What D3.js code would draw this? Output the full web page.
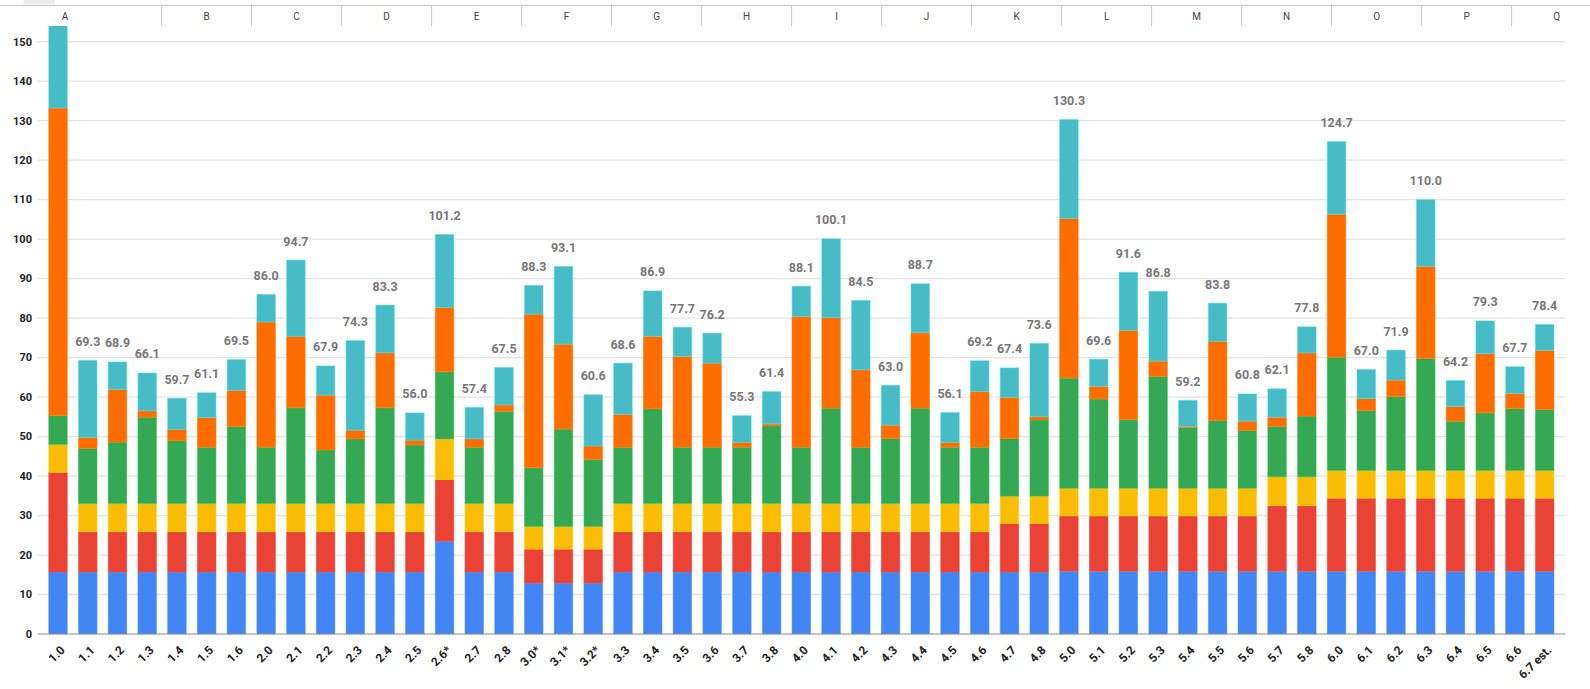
<!DOCTYPE html>
<html>
<head>
<meta charset="utf-8">
<script src="https://cdn.jsdelivr.net/npm/d3@7"></script>
<style>
  body { margin: 0; background: #fff; }
  svg { display: block; font-family: Roboto, "Liberation Sans", Arial, sans-serif; }
</style>
</head>
<body>
<div id="chart"></div>
<script>
// versions along the x axis
var versions = ["1.0","1.1","1.2","1.3","1.4","1.5","1.6",
  "2.0","2.1","2.2","2.3","2.4","2.5","2.6*","2.7","2.8",
  "3.0*","3.1*","3.2*","3.3","3.4","3.5","3.6","3.7","3.8",
  "4.0","4.1","4.2","4.3","4.4","4.5","4.6","4.7","4.8",
  "5.0","5.1","5.2","5.3","5.4","5.5","5.6","5.7","5.8",
  "6.0","6.1","6.2","6.3","6.4","6.5","6.6","6.7 est."];

// stacked segments, bottom to top
var blueVals = [15.7,15.7,15.7,15.7,15.7,15.7,15.7,
  15.7,15.7,15.7,15.7,15.7,15.7,23.5,15.7,15.7,
  12.9,12.9,12.9,15.7,15.7,15.7,15.7,15.7,15.7,
  15.7,15.7,15.7,15.7,15.7,15.7,15.7,15.7,15.7,
  15.9,15.9,15.9,15.9,15.9,15.9,15.9,15.9,15.9,
  15.9,15.9,15.9,15.9,15.9,15.9,15.9,15.9];
var redVals = [25.2,10.2,10.2,10.2,10.2,10.2,10.2,
  10.2,10.2,10.2,10.2,10.2,10.2,15.6,10.2,10.2,
  8.6,8.6,8.6,10.2,10.2,10.2,10.2,10.2,10.2,
  10.2,10.2,10.2,10.2,10.2,10.2,10.2,12.3,12.3,
  14.0,14.0,14.0,14.0,14.0,14.0,14.0,16.6,16.6,
  18.5,18.5,18.5,18.5,18.5,18.5,18.5,18.5];
var yellowVals = [7.1,7.1,7.1,7.1,7.1,7.1,7.1,
  7.1,7.1,7.1,7.1,7.1,7.1,10.3,7.1,7.1,
  5.7,5.7,5.7,7.1,7.1,7.1,7.1,7.1,7.1,
  7.1,7.1,7.1,7.1,7.1,7.1,7.1,6.9,6.9,
  7.0,7.0,7.0,7.0,7.0,7.0,7.0,7.3,7.3,
  7.0,7.0,7.0,7.0,7.0,7.0,7.0,7.0];
var greenVals = [7.3,14.0,15.6,21.9,15.9,14.3,19.5,
  14.3,24.3,13.6,16.4,24.3,14.9,17.0,14.3,23.4,
  14.9,24.7,17.0,14.3,24.0,14.3,14.3,14.3,19.7,
  14.3,24.2,14.3,16.5,24.2,14.3,14.3,14.6,19.3,
  27.9,22.6,17.4,28.3,15.4,17.2,14.6,12.7,15.4,
  28.7,15.2,18.7,28.4,12.5,14.6,15.7,15.4];
var orangeVals = [77.9,2.8,13.3,1.6,2.9,7.5,9.2,
  31.7,18.1,13.9,2.2,13.9,1.2,16.3,2.1,1.6,
  38.9,21.5,3.4,8.3,18.4,23.0,21.3,1.2,0.5,
  33.1,22.9,19.6,3.4,19.1,1.2,14.1,10.4,0.8,
  40.4,3.2,22.6,3.9,0.3,20.0,2.4,2.4,16.0,
  36.2,3.0,4.2,23.3,3.7,15.0,3.8,15.0];
var tealVals = [30.0,19.5,7.0,9.6,7.9,6.3,7.8,
  7.0,19.3,7.4,22.7,12.1,6.9,18.5,8.0,9.5,
  7.3,19.7,13.0,13.0,11.5,7.4,7.6,6.8,8.2,
  7.7,20.0,17.6,10.1,12.4,7.6,7.8,7.5,18.6,
  25.1,6.9,14.7,17.7,6.6,9.7,6.9,7.2,6.6,
  18.4,7.4,7.6,16.9,6.6,8.3,6.8,6.6];

var yTicks = [0,10,20,30,40,50,60,70,80,90,100,110,120,130,140,150];
var sheetColumns = ["A","B","C","D","E","F","G","H","I","J","K","L","M","N","O","P","Q"];

var keys = ["blue","red","yellow","green","orange","teal"];
var colors = ["#4285f4","#ea4335","#fbbc04","#34a853","#ff6d01","#46bdc6"];
var seriesVals = [blueVals, redVals, yellowVals, greenVals, orangeVals, tealVals];

var rows = versions.map(function(v, i) {
    var r = {version: v};
    keys.forEach(function(k, j) { r[k] = seriesVals[j][i]; });
    r.total = d3.sum(seriesVals, function(s) { return s[i]; });
    return r;
});

var width = 1590, height = 689;
var plot = {left: 37.7, right: 1565, top: 41.7, bottom: 634};

var svg = d3.select("#chart")
    .append("svg")
    .attr("width", width)
    .attr("height", height);

var x = d3.scaleBand()
    .domain(versions)
    .range([plot.left, plot.right])
    .paddingInner(0.347)
    .paddingOuter(0.357);

var y = d3.scaleLinear()
    .domain([0, 150])
    .range([plot.bottom, plot.top]);

var color = d3.scaleOrdinal().domain(keys).range(colors);

// gridlines
svg.append("g")
    .selectAll("line")
    .data(yTicks.filter(function(t) { return t > 0; }))
    .enter().append("line")
    .attr("x1", plot.left)
    .attr("x2", plot.right)
    .attr("y1", function(d) { return y(d); })
    .attr("y2", function(d) { return y(d); })
    .attr("stroke", "#e3e3e3")
    .attr("stroke-width", 1.3);

// y labels
svg.append("g")
    .selectAll("text")
    .data(yTicks)
    .enter().append("text")
    .attr("x", 32)
    .attr("y", function(d) { return y(d); })
    .attr("dy", "0.35em")
    .style("text-anchor", "end")
    .style("font-size", "11px")
    .style("font-weight", "bold")
    .style("fill", "#222")
    .text(function(d) { return d; });

// stacked bars
var stacked = d3.stack().keys(keys)(rows);

svg.append("g")
    .selectAll("g")
    .data(stacked)
    .enter().append("g")
    .attr("fill", function(d) { return color(d.key); })
    .attr("stroke", function(d) { return d3.color(color(d.key)).brighter(0.5); })
    .attr("stroke-width", 0.8)
    .attr("stroke-opacity", 0.6)
    .selectAll("rect")
    .data(function(d) { return d; })
    .enter().append("rect")
    .attr("x", function(d) { return x(d.data.version) + 0.4; })
    .attr("y", function(d) { return y(d[1]); })
    .attr("width", x.bandwidth() - 0.8)
    .attr("height", function(d) { return y(d[0]) - y(d[1]); });

// baseline
svg.append("line")
    .attr("x1", plot.left)
    .attr("x2", plot.right)
    .attr("y1", y(0))
    .attr("y2", y(0))
    .attr("stroke", "#8a8a8a")
    .attr("stroke-width", 1.2);

// totals above bars (the first one runs off the top, as in the sheet)
svg.append("g")
    .selectAll("text")
    .data(rows.filter(function(d) { return d.total <= 150; }))
    .enter().append("text")
    .attr("x", function(d) { return x(d.version) + x.bandwidth() / 2; })
    .attr("y", function(d) { return y(d.total) - 14.5; })
    .style("text-anchor", "middle")
    .style("font-size", "12.5px")
    .style("font-weight", "bold")
    .style("fill", "#777")
    .text(function(d) { return d.total.toFixed(1); });

// x labels, rotated
svg.append("g")
    .selectAll("text")
    .data(versions)
    .enter().append("text")
    .attr("transform", function(d) {
        return "translate(" + (x(d) + x.bandwidth() / 2 + 7.5) + "," + 651 + ") rotate(-45)";
    })
    .style("text-anchor", "end")
    .style("font-size", "12px")
    .style("font-weight", "bold")
    .style("fill", "#222")
    .text(function(d) { return d; });

// spreadsheet column header strip over the chart
var header = svg.append("g");
header.append("rect")
    .attr("x", 0).attr("y", 0)
    .attr("width", width).attr("height", 26)
    .attr("fill", "#fff");
header.append("rect")
    .attr("x", 23.5).attr("y", 0)
    .attr("width", 31.5).attr("height", 4.5)
    .attr("fill", "#eeeeee");
header.append("line")
    .attr("x1", 0).attr("x2", width)
    .attr("y1", 5.5).attr("y2", 5.5)
    .attr("stroke", "#c8c8c8")
    .attr("stroke-width", 1);

var colCenter = function(i) { return i === 0 ? 65 : 206.6 + (i - 1) * 90; };

header.selectAll(".sep")
    .data(sheetColumns.slice(1))
    .enter().append("line")
    .attr("class", "sep")
    .attr("x1", function(d, i) { return 161.6 + i * 90; })
    .attr("x2", function(d, i) { return 161.6 + i * 90; })
    .attr("y1", 5.5)
    .attr("y2", 26)
    .attr("stroke", "#c8c8c8")
    .attr("stroke-width", 1);

header.selectAll(".col")
    .data(sheetColumns)
    .enter().append("text")
    .attr("class", "col")
    .attr("x", function(d, i) { return colCenter(i); })
    .attr("y", 19.5)
    .style("text-anchor", "middle")
    .style("font-size", "10px")
    .style("fill", "#444")
    .text(function(d) { return d; });
</script>
</body>
</html>
